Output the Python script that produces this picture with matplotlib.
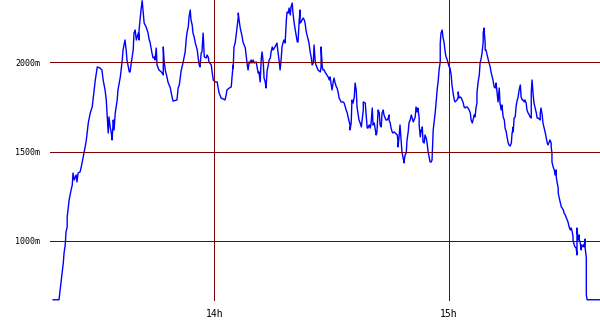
import numpy as np
import matplotlib
matplotlib.use("Agg")
import matplotlib.pyplot as plt

# altitude profile, time in minutes after 13:00, altitude in m
t_climb = [18.7, 20.2, 20.5, 21.0, 21.3, 21.5, 21.8, 22.0, 22.3, 22.3,
           22.8, 23.3, 23.6, 23.8, 24.1, 24.6, 24.8, 25.1, 25.6, 25.9,
           26.4, 26.9, 27.2, 27.4, 27.7, 28.2, 28.7, 28.9, 29.2, 29.5,
           30.0, 30.7, 31.2, 31.5, 32.0, 32.3, 32.5, 32.8, 33.0, 33.3,
           33.6, 33.8, 34.1, 34.3, 34.6, 35.1, 35.3, 35.9, 36.4, 36.6,
           37.1, 37.4, 37.6, 38.2, 38.4, 38.7, 39.2, 39.4, 39.7, 40.0,
           40.5, 40.7, 40.7, 41.2, 41.5, 41.7, 42.0, 42.5, 43.0, 43.3]
h_climb = [670, 670, 725, 820, 876, 932, 977, 1050, 1078, 1134,
           1229, 1285, 1313, 1380, 1341, 1369, 1330, 1380, 1386, 1414,
           1470, 1526, 1565, 1604, 1660, 1716, 1750, 1789, 1845, 1901,
           1974, 1968, 1957, 1901, 1845, 1789, 1716, 1604, 1694, 1638,
           1604, 1565, 1677, 1621, 1716, 1789, 1845, 1918, 2013, 2069,
           2125, 2069, 2013, 1946, 1946, 1996, 2069, 2164, 2181, 2125,
           2164, 2125, 2181, 2293, 2345, 2293, 2220, 2198, 2164, 2125]

t_ridge1 = [43.5, 44.0, 44.3, 44.6, 44.8, 45.1, 45.3, 45.8, 46.4, 46.9,
            46.9, 47.1, 47.4, 47.9, 48.1, 48.7, 49.2, 49.4, 50.4, 50.7,
            51.0, 51.5, 51.7, 52.0, 52.5, 52.8, 53.0, 53.3, 53.5, 53.8,
            54.0, 54.3, 54.5, 54.8, 55.1, 55.6, 55.8, 56.1, 56.3, 56.6,
            56.8, 57.1, 57.4, 57.9, 58.1, 58.4, 58.6, 59.2, 59.4, 59.7,
            60.2, 60.7, 60.9, 61.2, 61.7, 62.2, 62.7, 63.0, 63.2, 63.8,
            64.3, 64.5, 64.8, 64.8, 65.0, 65.3, 65.5, 65.8, 66.1, 66.1,
            66.3, 66.6, 67.1, 67.3, 67.9, 68.1, 68.4, 68.6, 68.9, 69.1]
h_ridge1 = [2114, 2052, 2024, 2030, 2013, 2080, 1985, 1957, 1946, 1929,
            2086, 2013, 1957, 1912, 1890, 1856, 1800, 1783, 1789, 1856,
            1873, 1957, 1974, 2002, 2058, 2136, 2170, 2198, 2254, 2293,
            2237, 2209, 2164, 2142, 2108, 2069, 2030, 1985, 1974, 2052,
            2058, 2164, 2030, 2024, 2041, 2030, 2002, 1985, 1946, 1901,
            1890, 1890, 1862, 1828, 1800, 1795, 1789, 1817, 1845, 1856,
            1862, 1918, 1985, 1968, 2086, 2108, 2142, 2198, 2254, 2276,
            2237, 2192, 2142, 2114, 2080, 2041, 1985, 1957, 2002, 1996]

t_ridge2 = [69.4, 69.6, 69.9, 70.2, 70.7, 70.9, 71.2, 71.4, 71.7, 72.0,
            72.2, 72.5, 72.7, 73.0, 73.2, 73.5, 73.7, 74.0, 74.3, 74.5,
            74.8, 75.0, 75.5, 76.0, 76.3, 76.6, 76.8, 77.1, 77.3, 77.6,
            77.8, 78.1, 78.4, 78.6, 78.9, 79.1, 79.4, 79.6, 79.9, 80.1,
            80.4, 80.7, 80.9, 81.2, 81.4, 81.7, 81.9, 81.9, 82.2, 82.4,
            82.7, 83.0, 83.2, 83.5, 83.7, 84.0, 84.2, 84.5, 84.8, 85.0,
            85.3, 85.5, 85.8, 86.0, 86.3, 86.5, 87.1, 87.3, 87.3, 87.6,
            87.8, 88.1, 88.3, 88.8, 89.1, 89.4, 89.6, 89.9, 90.1, 90.4,
            90.6, 90.9, 91.2, 91.4, 91.7, 91.9, 92.2, 92.4, 92.9, 93.2,
            93.5, 93.7, 94.0, 94.2, 94.7]
h_ridge2 = [2013, 1996, 2013, 1996, 2002, 1974, 1940, 1946, 1890, 2024,
            2058, 1996, 1912, 1890, 1856, 1957, 1974, 2013, 2024, 2058,
            2086, 2069, 2086, 2108, 2052, 2002, 1957, 2024, 2086, 2114,
            2125, 2108, 2237, 2282, 2276, 2304, 2265, 2310, 2332, 2276,
            2220, 2181, 2153, 2114, 2114, 2237, 2293, 2220, 2226, 2237,
            2248, 2237, 2220, 2170, 2153, 2125, 2108, 2058, 2024, 1985,
            1996, 2097, 2002, 1985, 1968, 1957, 1946, 1974, 2086, 1974,
            1957, 1957, 1946, 1929, 1918, 1901, 1918, 1873, 1845, 1890,
            1912, 1884, 1862, 1856, 1828, 1800, 1789, 1778, 1778, 1772,
            1750, 1733, 1716, 1694, 1649]

t_valley = [94.7, 95.0, 95.2, 95.5, 95.8, 96.0, 96.3, 96.5, 97.0, 97.3,
            97.6, 97.8, 98.1, 98.1, 98.6, 98.8, 99.1, 99.3, 99.6, 99.9,
            100.1, 100.4, 100.6, 100.9, 101.1, 101.4, 101.6, 101.9, 102.2, 102.4,
            102.7, 102.9, 103.2, 103.4, 103.9, 104.2, 104.5, 104.7, 104.7, 105.0,
            105.2, 105.5, 105.7, 106.0, 106.3, 106.8, 107.0, 107.0, 107.3, 107.5,
            107.8, 108.0, 108.3, 108.6, 108.6, 108.8, 109.1, 109.3, 109.6, 109.8,
            110.1, 110.4, 110.6, 110.9, 111.1, 111.4, 111.6, 111.9, 112.1, 112.4,
            112.4, 112.7, 112.9, 113.2, 113.2, 113.4, 113.7, 113.9, 114.2, 114.4,
            114.7, 115.0, 115.2, 115.5, 115.7, 116.0, 116.2, 116.5, 116.8, 117.0,
            117.3, 117.5, 117.8, 117.8, 118.0, 118.3, 118.5, 118.8, 119.1, 119.3,
            119.6, 119.8, 120.1, 120.3]
h_valley = [1621, 1660, 1789, 1772, 1806, 1884, 1845, 1750, 1677, 1660,
            1638, 1677, 1733, 1778, 1772, 1716, 1632, 1632, 1649, 1632,
            1660, 1744, 1649, 1660, 1632, 1593, 1610, 1733, 1716, 1649,
            1638, 1716, 1733, 1705, 1677, 1677, 1688, 1705, 1677, 1660,
            1632, 1610, 1604, 1610, 1604, 1593, 1554, 1526, 1593, 1649,
            1554, 1498, 1464, 1436, 1453, 1481, 1492, 1565, 1610, 1660,
            1677, 1705, 1688, 1666, 1677, 1694, 1750, 1722, 1744, 1688,
            1649, 1582, 1621, 1610, 1638, 1554, 1548, 1593, 1576, 1554,
            1498, 1464, 1442, 1442, 1453, 1621, 1660, 1716, 1789, 1845,
            1901, 1957, 2002, 2108, 2164, 2181, 2142, 2108, 2052, 2030,
            2013, 1996, 1974, 1968]

t_ridge3 = [120.6, 120.8, 121.1, 121.4, 121.6, 122.1, 122.4, 122.4, 122.6, 122.9,
            123.2, 123.4, 123.7, 123.9, 124.2, 124.4, 124.7, 124.9, 125.2, 125.5,
            125.7, 126.0, 126.2, 126.5, 126.7, 127.0, 127.2, 127.2, 127.5, 127.8,
            128.0, 128.3, 128.5, 128.8, 128.8, 129.0, 129.3, 129.3, 129.5, 129.8,
            130.1, 130.3, 130.6, 130.8, 131.1, 131.3, 131.6, 131.9, 132.1, 132.4,
            132.6, 132.9, 133.1, 133.4, 133.6, 133.9, 134.2, 134.4, 134.7, 134.9,
            135.2, 135.4, 135.7, 136.0, 136.2, 136.5, 136.5, 136.7, 137.0, 137.2,
            137.5, 137.7, 138.0, 138.3, 138.5, 138.8, 139.0, 139.3, 139.5, 139.8,
            140.0, 140.3, 140.6, 140.8, 141.1, 141.1, 141.3, 141.6, 141.8, 142.1,
            142.4, 142.6, 142.9, 143.1, 143.4]
h_ridge3 = [1929, 1873, 1828, 1789, 1778, 1789, 1806, 1834, 1800, 1806,
            1800, 1789, 1772, 1750, 1744, 1750, 1750, 1744, 1733, 1716,
            1677, 1660, 1677, 1705, 1694, 1750, 1772, 1828, 1890, 1929,
            1996, 2024, 2052, 2114, 2164, 2192, 2108, 2069, 2069, 2041,
            2013, 1996, 1974, 1946, 1918, 1901, 1862, 1856, 1884, 1817,
            1778, 1856, 1772, 1733, 1761, 1694, 1677, 1632, 1610, 1582,
            1548, 1537, 1531, 1548, 1604, 1638, 1610, 1688, 1694, 1750,
            1789, 1800, 1845, 1873, 1806, 1789, 1789, 1778, 1789, 1772,
            1733, 1716, 1705, 1694, 1688, 1828, 1901, 1817, 1772, 1744,
            1716, 1688, 1688, 1683, 1677]

t_descent = [143.4, 143.6, 143.9, 144.1, 144.4, 144.7, 144.9, 145.2, 145.4, 145.7,
             145.9, 146.2, 146.2, 146.4, 146.4, 146.7, 147.0, 147.2, 147.5, 147.5,
             147.7, 148.0, 148.0, 148.2, 148.5, 148.8, 149.0, 149.3, 149.5, 149.8,
             150.0, 150.3, 150.5, 150.8, 151.1, 151.3, 151.6, 151.8, 151.8, 152.1,
             152.3, 152.6, 152.8, 152.8, 153.1, 153.4, 153.4, 153.6, 153.9, 153.9,
             154.1, 154.4, 154.6, 154.9, 154.9, 155.2, 155.2, 155.4, 158.7]
h_descent = [1716, 1744, 1705, 1660, 1632, 1604, 1582, 1548, 1537, 1554,
             1565, 1548, 1526, 1492, 1442, 1414, 1397, 1369, 1397, 1358,
             1330, 1296, 1268, 1246, 1218, 1190, 1184, 1173, 1156, 1145,
             1134, 1117, 1106, 1078, 1061, 1072, 1050, 1022, 1005, 977,
             966, 960, 921, 1072, 1005, 1033, 1005, 994, 949, 977,
             966, 977, 966, 1010, 960, 904, 697, 670, 670]

h_levels = [1000, 1500, 2000]
t_hours = [60, 120]
hour_labels = ["14h", "15h"]

minutes = np.concatenate([t_climb, t_ridge1, t_ridge2, t_valley, t_ridge3, t_descent])
altitude = np.concatenate([h_climb, h_ridge1, h_ridge2, h_valley, h_ridge3, h_descent])

fig = plt.figure(figsize=(6, 3.3), dpi=100)
ax = fig.add_axes([50 / 600, 1 - 301 / 330, 550 / 600, 301 / 330])

ax.plot(minutes, altitude, color="#0000ff", lw=1.0, zorder=2)
for h in h_levels:
    ax.axhline(h, color="#800000", lw=0.72, zorder=3)
for t in t_hours:
    ax.axvline(t, color="#800000", lw=0.72, zorder=3)

ax.set_xlim(17.9, 158.7)
ax.set_ylim(663, 2349)
for s in ax.spines.values():
    s.set_visible(False)

ax.set_yticks(h_levels, labels=[f"{h}m" for h in h_levels])
ax.set_xticks(t_hours, labels=hour_labels)
ax.tick_params(axis="y", length=0, pad=7, labelsize=6)
ax.tick_params(axis="x", length=0, pad=6, labelsize=7)
for lab in ax.get_xticklabels() + ax.get_yticklabels():
    lab.set_family("DejaVu Sans Mono")

fig.savefig("out.png", dpi=100)
